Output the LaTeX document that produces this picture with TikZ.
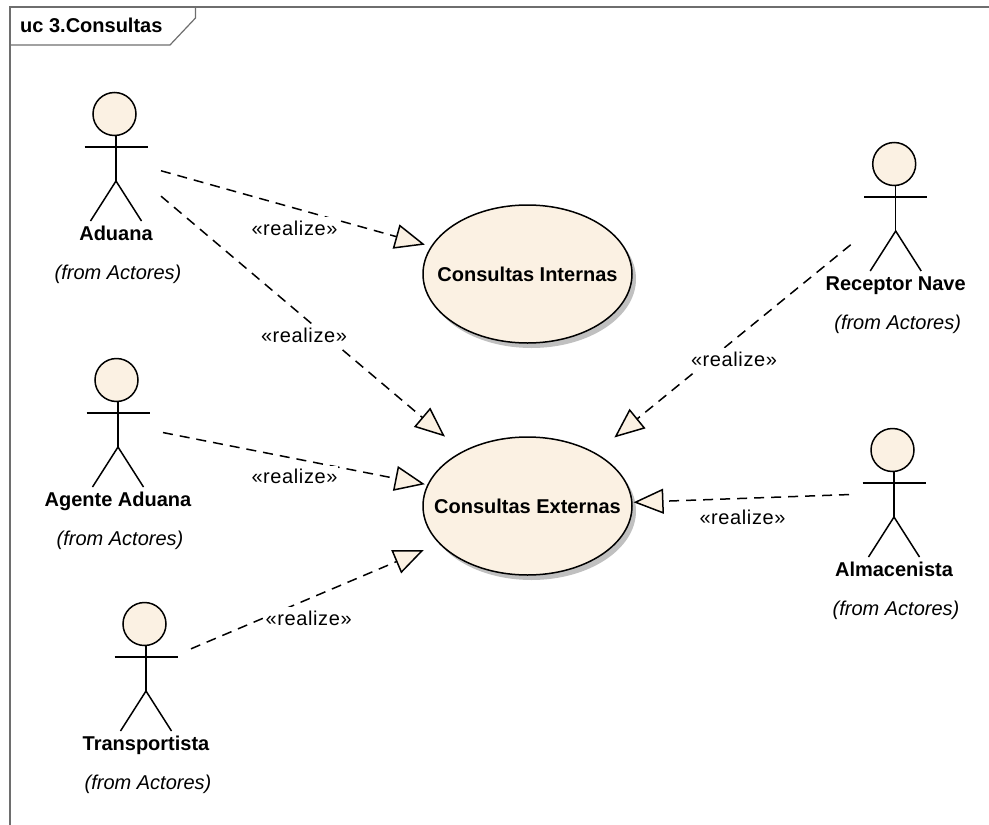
\documentclass[tikz,border=0pt]{standalone}
\usepackage{fontspec}
\setmainfont{Liberation Sans}
\newfontfamily\realizefont[LetterSpace=3]{Liberation Sans}
\usetikzlibrary{positioning,arrows.meta,shapes.geometric,shadows}
\definecolor{cream}{RGB}{251,241,227}
\definecolor{framegray}{RGB}{110,110,110}
\definecolor{shadowgray}{RGB}{192,192,192}
\tikzset{node distance=39pt,
  every node/.style={font=\fontsize{20}{24}\selectfont},
  actorbox/.style={minimum width=90pt, minimum height=130pt, inner sep=0pt, outer sep=0pt},
  actorname/.style={font=\fontsize{20}{24}\selectfont\bfseries, text height=18pt, text depth=4pt},
  actorfrom/.style={font=\fontsize{20}{24}\selectfont\itshape, text height=18pt, text depth=4pt, xshift=2pt},
  usecase/.style={ellipse, draw, line width=1.5pt, fill=cream, minimum width=209pt, minimum height=138pt,
    inner xsep=-30pt, inner ysep=0pt, outer sep=0pt, font=\fontsize{20}{24}\selectfont\bfseries,
    drop shadow={shadow xshift=4pt, shadow yshift=-5pt, fill=shadowgray, opacity=1}},
  realizeline/.style={line width=1.5pt, dash pattern=on 10pt off 7pt,
    -{Triangle[length=30pt, width=25pt, fill=cream]}},
  realizelabel/.style={font=\fontsize{20}{24}\realizefont, fill=white, inner sep=0.5pt, minimum height=22pt},
  actorfig/.pic={
    \draw [line width=1.5pt, fill=cream] (-1.5,-43) circle (21.5);
    \draw [line width=1.5pt] (0,-21.5) -- (0,24);
    \draw [line width=1.5pt] (-31.5,-10) -- (31.5,-10);
    \draw [line width=1.5pt] (-25.5,64) -- (0,24) -- (25.5,64);
  }}

\begin{document}
\begin{tikzpicture}[x=1pt, y=-1pt]

  \useasboundingbox (0,0) rectangle (989,825);

  % frame
  \draw [framegray, line width=1.5pt] (989,7) -- (10,7) -- (10,825);
  \draw [framegray, line width=1.2pt] (10,45) -- (170,45) -- (195.5,18) -- (195.5,7);
  \node (Title) [anchor=west, inner sep=0pt, actorname] at (20,25) {uc 3.Consultas};

  % use cases
  \node (Internas) [usecase] at (527.5,274) {Consultas Internas};
  \node (Externas) [usecase] at (527.5,506) {Consultas Externas};

  % actors
  \node (Aduana) [actorbox] at (116,157) {};
  \pic at (Aduana) {actorfig};
  \node (AduanaName) [actorname, below of=Aduana, node distance=76pt] {Aduana};
  \node (AduanaFrom) [actorfrom, below of=AduanaName] {(from Actores)};

  \node (Agente) [actorbox] at (118,423) {};
  \pic at (Agente) {actorfig};
  \node (AgenteName) [actorname, below of=Agente, node distance=76pt] {Agente Aduana};
  \node (AgenteFrom) [actorfrom, below of=AgenteName] {(from Actores)};

  \node (Transportista) [actorbox] at (146,667) {};
  \pic at (Transportista) {actorfig};
  \node (TransportistaName) [actorname, below of=Transportista, node distance=76pt] {Transportista};
  \node (TransportistaFrom) [actorfrom, below of=TransportistaName] {(from Actores)};

  \node (Receptor) [actorbox] at (895.7,207) {};
  \pic at (Receptor) {actorfig};
  \node (ReceptorName) [actorname, below of=Receptor, node distance=76pt] {Receptor Nave};
  \node (ReceptorFrom) [actorfrom, below of=ReceptorName] {(from Actores)};

  \node (Almacenista) [actorbox] at (894,493) {};
  \pic at (Almacenista) {actorfig};
  \node (AlmacenistaName) [actorname, below of=Almacenista, node distance=76pt] {Almacenista};
  \node (AlmacenistaFrom) [actorfrom, below of=AlmacenistaName] {(from Actores)};

  % realizations
  \draw [realizeline, shorten >=7pt] (Aduana.-17.3) -- (Internas.164.3);
  \draw [realizeline, shorten >=23.5pt] (Aduana.-41.6) -- (Externas.140.6);
  \draw [realizeline, shorten >=3.3pt] (Agente.-12.4) -- (Externas.168.5);
  \draw [realizeline, shorten >=17.2pt] (Transportista.22) -- (Externas.203.4);
  \draw [realizeline, shorten >=25pt] (Receptor.220) -- (Externas.38.8);
  \draw [realizeline, shorten >=1.7pt] (Almacenista.182.6) -- (Externas.2.3);

  \node (RealizeA) [realizelabel] at (294.5,228) {«realize»};
  \node (RealizeB) [realizelabel] at (304,335) {«realize»};
  \node (RealizeC) [realizelabel] at (294.5,476.5) {«realize»};
  \node (RealizeD) [realizelabel] at (308.7,618) {«realize»};
  \node (RealizeE) [realizelabel] at (734,359) {«realize»};
  \node (RealizeF) [realizelabel] at (742.5,517) {«realize»};

\end{tikzpicture}
\end{document}
